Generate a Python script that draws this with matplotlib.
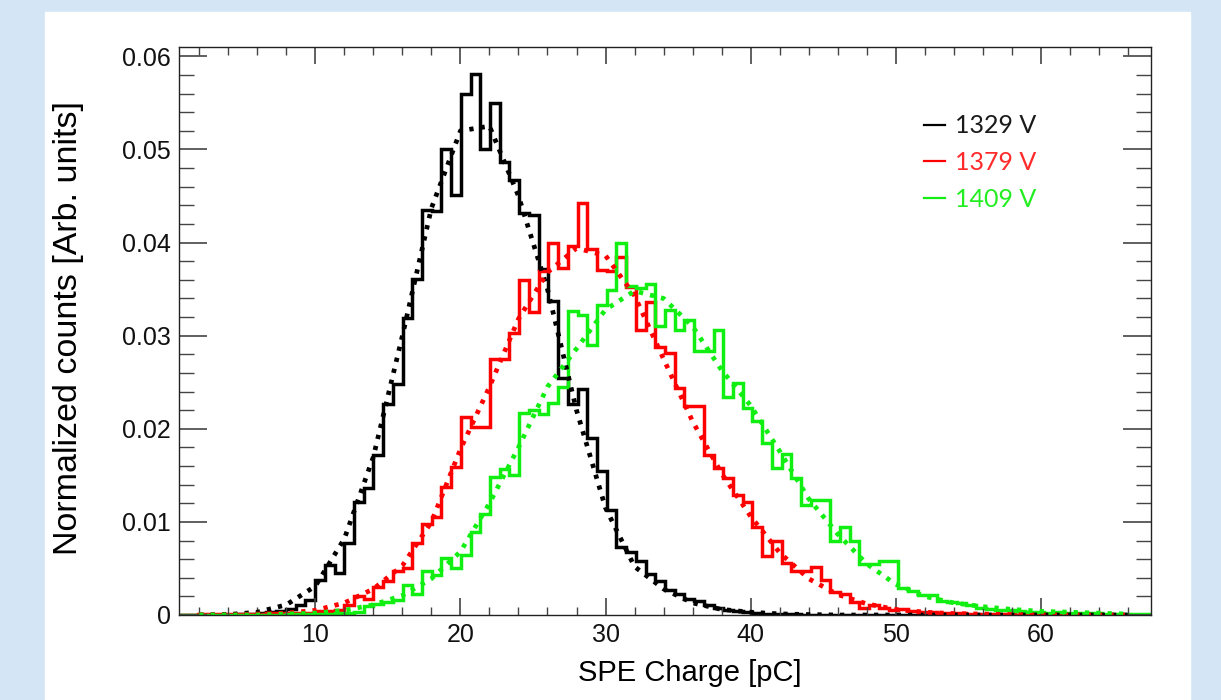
import numpy as np
import matplotlib
matplotlib.use("Agg")
import matplotlib.pyplot as plt
from matplotlib.patches import Rectangle
from matplotlib.ticker import MultipleLocator, FuncFormatter

# histogram binning (pC)
bin_lo, bin_hi, n_bins = 0.6, 67.6, 100

# normalized counts per bin
h1329 = [0, 0, 0, 0, 0, 0,
         0.0001, 0.0001, 0.0002, 0.0003, 0.0004, 0.0006, 0.0011, 0.0016,
         0.0038, 0.0054, 0.0045, 0.0077, 0.0121, 0.0136, 0.0172, 0.0227, 0.0248,
         0.0319, 0.0361, 0.0435, 0.0434, 0.0500, 0.0451, 0.0559, 0.0581, 0.0500, 0.0550,
         0.0486, 0.0467, 0.0432, 0.0430, 0.0372, 0.0337, 0.0254, 0.0227, 0.0243, 0.0190,
         0.0155, 0.0113, 0.0073, 0.0068, 0.0058, 0.0044, 0.0036, 0.0027, 0.0023, 0.0017,
         0.0015, 0.0011, 0.0007, 0.0005, 0.0004, 0.0003, 0.0002, 0.0001, 0.0001, 0.0001, 0.0001] + [0] * 36

h1379 = [0, 0,
         0.0001, 0.0001, 0.0001, 0.0001, 0.0001, 0.0001, 0.0001,
         0.0002, 0.0002, 0.0002, 0.0002, 0.0002,
         0.0004, 0.0004, 0.0005,
         0.0011, 0.0020, 0.0017, 0.0030, 0.0036, 0.0047, 0.0050, 0.0077, 0.0098, 0.0105,
         0.0137, 0.0159, 0.0213, 0.0202, 0.0202, 0.0275, 0.0275, 0.0303, 0.0360, 0.0325,
         0.0369, 0.0399, 0.0373, 0.0396, 0.0442, 0.0393, 0.0371, 0.0369, 0.0385, 0.0352,
         0.0306, 0.0336, 0.0288, 0.0281, 0.0244, 0.0224, 0.0224, 0.0172, 0.0158, 0.0147,
         0.0129, 0.0121, 0.0094, 0.0063, 0.0079, 0.0056, 0.0047, 0.0047, 0.0052, 0.0038,
         0.0025, 0.0023, 0.0014, 0.0007, 0.0011, 0.0007, 0.0005, 0.0006, 0.0004, 0.0003,
         0.0003, 0.0002, 0.0002, 0.0002, 0.0001, 0.0001, 0.0001, 0.0001, 0.0001] + [0] * 14

h1409 = [0] * 11 + [
         0.0001, 0.0001, 0.0001, 0.0001, 0.0001,
         0.0002, 0.0002, 0.0003,
         0.0010, 0.0012, 0.0014, 0.0016, 0.0032, 0.0023, 0.0047, 0.0043, 0.0061, 0.0050,
         0.0064, 0.0089, 0.0109, 0.0148, 0.0157, 0.0150, 0.0217, 0.0220, 0.0216, 0.0228,
         0.0245, 0.0327, 0.0322, 0.0290, 0.0333, 0.0349, 0.0399, 0.0353, 0.0351, 0.0356,
         0.0310, 0.0328, 0.0306, 0.0317, 0.0284, 0.0284, 0.0306, 0.0234, 0.0249, 0.0222,
         0.0208, 0.0185, 0.0158, 0.0173, 0.0147, 0.0118, 0.0123, 0.0123, 0.0079, 0.0095,
         0.0079, 0.0055, 0.0055, 0.0058, 0.0058, 0.0029, 0.0026, 0.0022, 0.0021, 0.0015,
         0.0014, 0.0013, 0.0011, 0.0008, 0.0006, 0.0005, 0.0005, 0.0004, 0.0003, 0.0003,
         0.0002, 0.0003, 0.0002, 0.0002, 0.0002, 0.0002, 0.0001, 0.0001, 0.0001, 0.0001, 0.0001]

# fitted curves, sampled every 2 pC
fit_x = list(range(2, 67, 2))
f1329 = [0, 0.00005, 0.0003, 0.0011, 0.0031, 0.0082, 0.0170, 0.0300, 0.0437, 0.0520,
         0.0525, 0.0450, 0.0350, 0.0220, 0.0115, 0.0052, 0.0028, 0.0013, 0.0006, 0.0003,
         0.00012, 0.00005, 0, 0, 0, 0, 0, 0, 0, 0, 0, 0, 0]
f1379 = [0, 0, 0.0001, 0.0002, 0.0005, 0.0013, 0.0028, 0.0053, 0.0100, 0.0178,
         0.0245, 0.0318, 0.0368, 0.0394, 0.0386, 0.0343, 0.0275, 0.0208, 0.0152, 0.0106,
         0.0067, 0.0039, 0.0022, 0.0012, 0.0006, 0.0003, 0.00015, 0.0001, 0.00005, 0, 0, 0, 0]
f1409 = [0, 0, 0, 0.0001, 0.0002, 0.0005, 0.0011, 0.0021, 0.0039, 0.0068,
         0.0120, 0.0180, 0.0245, 0.0286, 0.0328, 0.0348, 0.0340, 0.0310, 0.0263, 0.0225,
         0.0176, 0.0125, 0.0087, 0.0055, 0.0033, 0.0020, 0.0013, 0.0009, 0.0006, 0.0004,
         0.0003, 0.0002, 0.0001]

labels = ["1329 V", "1379 V", "1409 V"]
colors = ["#000000", "#ff0000", "#11ee11"]
text_colors = ["#1a1a1a", "#ff2a2a", "#22ee22"]

fig = plt.figure(figsize=(12.21, 7), dpi=100, facecolor="#d4e5f6")
fig.patches.append(Rectangle((45 / 1221, 0), 1145 / 1221, 688 / 700,
                             transform=fig.transFigure, color="white", zorder=-10))
ax = fig.add_axes([179 / 1221, 85 / 700, 972 / 1221, 568 / 700])

edges = np.linspace(bin_lo, bin_hi, n_bins + 1)
for h, f, c in zip([h1329, h1379, h1409], [f1329, f1379, f1409], colors):
    ax.stairs(h, edges, color=c, lw=2.5)
    ax.plot(fit_x, f, color=c, lw=3.4, ls=(0, (0.9, 1.5)))

# legend
handles = [plt.Line2D([], [], color=c, lw=1.6) for c in colors]
leg = ax.legend(handles, labels, loc="upper left", bbox_to_anchor=(0.743, 0.921),
                frameon=False, handlelength=0.85, handletextpad=0.4, labelspacing=0.55,
                prop={"family": "Lato", "size": 18})
for t, c in zip(leg.get_texts(), text_colors):
    t.set_color(c)

ax.set_xlim(bin_lo, bin_hi)
ax.set_ylim(0, 0.061)
ax.xaxis.set_major_locator(MultipleLocator(10))
ax.xaxis.set_minor_locator(MultipleLocator(2))
ax.yaxis.set_major_locator(MultipleLocator(0.01))
ax.yaxis.set_minor_locator(MultipleLocator(0.002))
ax.yaxis.set_major_formatter(FuncFormatter(lambda v, p: "0" if abs(v) < 1e-9 else f"{v:.2f}"))
ax.tick_params(which="both", direction="in", top=True, right=True, color="#444444",
               labelsize=18, labelcolor="#111111")
ax.tick_params(axis="x", which="major", length=12, width=1.2, pad=6)
ax.tick_params(axis="x", which="minor", length=6, width=1.0)
ax.tick_params(axis="y", which="major", length=20, width=1.2, pad=6)
ax.tick_params(axis="y", which="minor", length=10.5, width=1.0)
for lab in ax.get_xticklabels() + ax.get_yticklabels():
    lab.set_family("Liberation Sans")
for s in ax.spines.values():
    s.set_linewidth(1.0)
    s.set_color("#222222")

ax.set_xlabel("SPE Charge [pC]", fontsize=21, family="Liberation Sans", va="top")
ax.xaxis.set_label_coords(0.526, -0.078)
ax.set_ylabel("Normalized counts [Arb. units]", fontsize=24.5, family="Liberation Sans")
ax.yaxis.set_label_coords(-0.098, 0.506)

fig.savefig("out.png", dpi=100, facecolor=fig.get_facecolor())
